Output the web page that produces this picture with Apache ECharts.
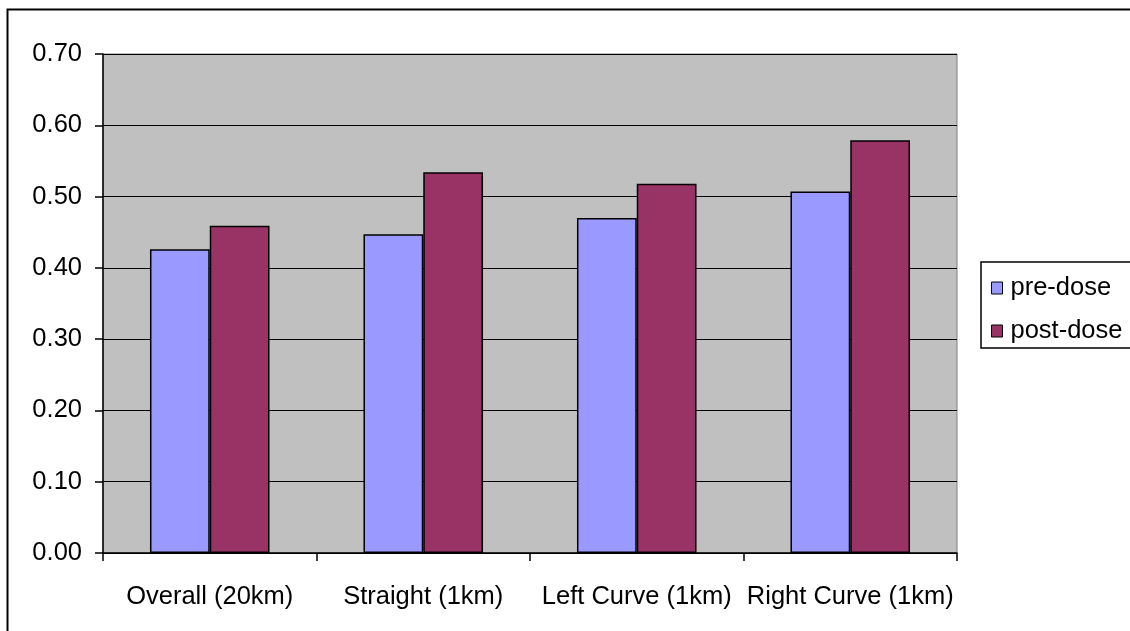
<!DOCTYPE html>
<html>
<head>
<meta charset="utf-8">
<script src="https://cdn.jsdelivr.net/npm/echarts@6/dist/echarts.min.js"></script>
<style>
html,body{margin:0;padding:0;background:#fff;}
#chart{width:1130px;height:631px;}
</style>
</head>
<body>
<div id="chart"></div>
<script>
var categories = ['Overall (20km)', 'Straight (1km)', 'Left Curve (1km)', 'Right Curve (1km)'];
var preDose = [0.426, 0.447, 0.470, 0.507];
var postDose = [0.459, 0.534, 0.518, 0.579];
var seriesNames = ['pre-dose', 'post-dose'];

var chart = echarts.init(document.getElementById('chart'));
var font = 'Liberation Sans, Arial, sans-serif';
chart.setOption({
  animation: false,
  backgroundColor: '#fff',
  graphic: [{
    type: 'rect',
    shape: {x: 7.5, y: 9.5, width: 1300, height: 800},
    style: {fill: 'none', stroke: '#000', lineWidth: 2},
    z: 100
  }],
  grid: {
    left: 103, right: 173, top: 54, bottom: 78,
    show: true, backgroundColor: '#C0C0C0', borderColor: '#808080', borderWidth: 1
  },
  legend: {
    orient: 'vertical',
    left: 981, top: 262,
    padding: [13, 30, 4, 10],
    borderColor: '#000', borderWidth: 1.5,
    icon: 'rect',
    itemWidth: 11, itemHeight: 12, itemGap: 17,
    data: seriesNames,
    textStyle: {fontFamily: font, fontSize: 25.5, color: '#000', padding: [0, 0, 0, 3]},
    itemStyle: {borderColor: '#000', borderWidth: 1}
  },
  xAxis: {
    type: 'category',
    data: categories,
    axisLine: {lineStyle: {color: '#000', width: 1.5}},
    axisTick: {show: true, length: 8, lineStyle: {color: '#000', width: 1.5}},
    axisLabel: {fontFamily: font, fontSize: 25.5, color: '#000', margin: 31, interval: 0}
  },
  yAxis: {
    type: 'value',
    min: 0, max: 0.7, interval: 0.1,
    axisLine: {show: true, lineStyle: {color: '#000', width: 1.5}},
    axisTick: {show: true, length: 8, lineStyle: {color: '#000', width: 1.5}},
    axisLabel: {fontFamily: font, fontSize: 25.5, color: '#000', margin: 21,
      formatter: function (v) { return v.toFixed(2); }},
    splitLine: {show: true, lineStyle: {color: '#000', width: 1.2}}
  },
  series: [{
    name: seriesNames[0], type: 'bar', data: preDose,
    barGap: '0%', barCategoryGap: '44%',
    itemStyle: {color: '#9999FF', borderColor: '#000', borderWidth: 1.5}
  }, {
    name: seriesNames[1], type: 'bar', data: postDose,
    barGap: '0%', barCategoryGap: '44%',
    itemStyle: {color: '#993366', borderColor: '#000', borderWidth: 1.5}
  }]
});
</script>
</body>
</html>
